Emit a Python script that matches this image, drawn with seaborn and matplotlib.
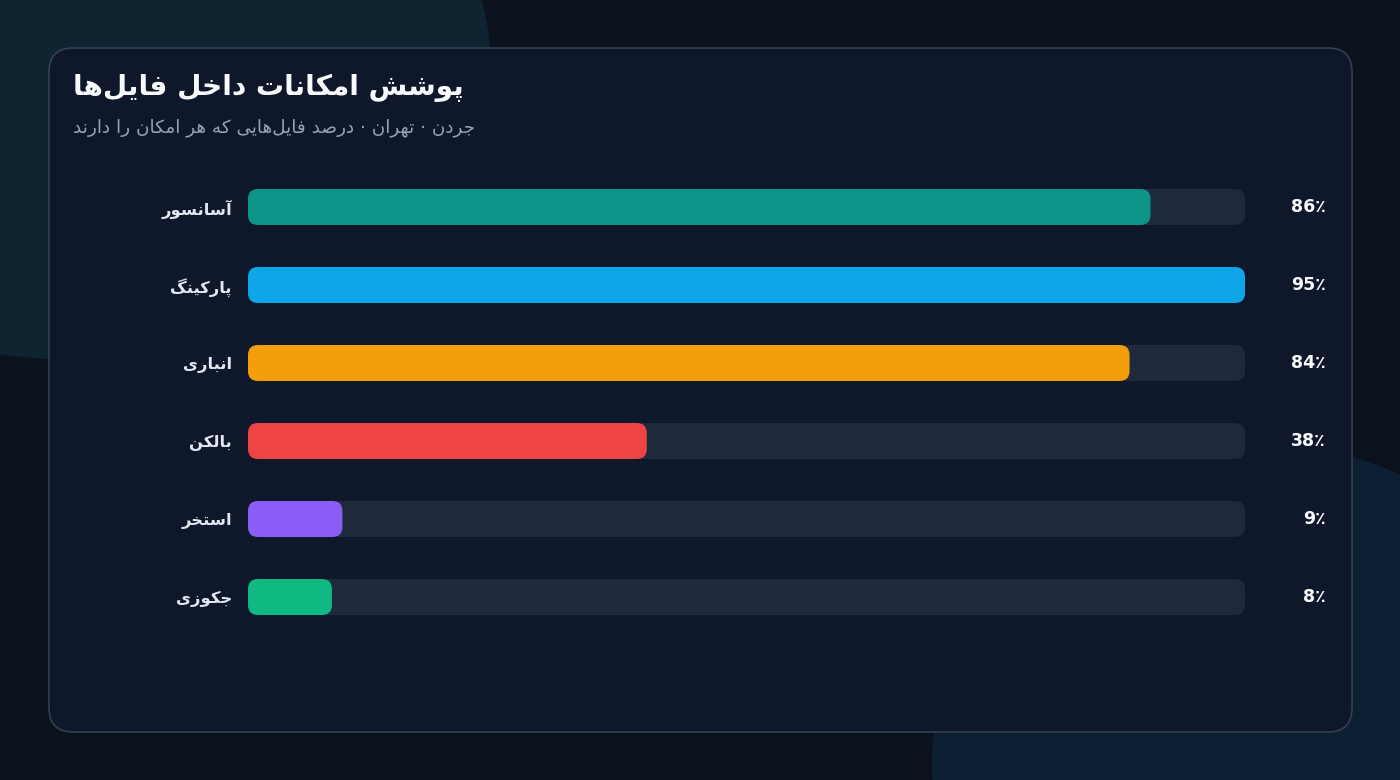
import numpy as np
import pandas as pd
import matplotlib
matplotlib.use("Agg")
import matplotlib.pyplot as plt
import seaborn as sns
from matplotlib.patches import FancyBboxPatch, Ellipse

# ---------------- data ----------------
title = "پوشش امکانات داخل فایل‌ها"
subtitle = "جردن · تهران · درصد فایل‌هایی که هر امکان را دارند"
categories = ["آسانسور", "پارکینگ", "انباری", "بالکن", "استخر", "جکوزی"]
values = [86, 95, 84, 38, 9, 8]
value_labels = ["86٪", "95٪", "84٪", "38٪", "9٪", "8٪"]
colors = ["#0d9488", "#0ea5e9", "#f59e0b", "#ef4444", "#8b5cf6", "#10b981"]

# ---------------- minimal Persian shaping (matplotlib has no bidi/shaping) ----------------
_FORMS = {
    'ا': (0xFE8D, 0xFE8E, None, None),
    'آ': (0xFE81, 0xFE82, None, None),
    'ب': (0xFE8F, 0xFE90, 0xFE91, 0xFE92),
    'پ': (0xFB56, 0xFB57, 0xFB58, 0xFB59),
    'ت': (0xFE95, 0xFE96, 0xFE97, 0xFE98),
    'ج': (0xFE9D, 0xFE9E, 0xFE9F, 0xFEA0),
    'خ': (0xFEA5, 0xFEA6, 0xFEA7, 0xFEA8),
    'د': (0xFEA9, 0xFEAA, None, None),
    'ر': (0xFEAD, 0xFEAE, None, None),
    'ز': (0xFEAF, 0xFEB0, None, None),
    'س': (0xFEB1, 0xFEB2, 0xFEB3, 0xFEB4),
    'ش': (0xFEB5, 0xFEB6, 0xFEB7, 0xFEB8),
    'ص': (0xFEB9, 0xFEBA, 0xFEBB, 0xFEBC),
    'ف': (0xFED1, 0xFED2, 0xFED3, 0xFED4),
    'ک': (0xFB8E, 0xFB8F, 0xFB90, 0xFB91),
    'گ': (0xFB92, 0xFB93, 0xFB94, 0xFB95),
    'ل': (0xFEDD, 0xFEDE, 0xFEDF, 0xFEE0),
    'م': (0xFEE1, 0xFEE2, 0xFEE3, 0xFEE4),
    'ن': (0xFEE5, 0xFEE6, 0xFEE7, 0xFEE8),
    'و': (0xFEED, 0xFEEE, None, None),
    'ه': (0xFEE9, 0xFEEA, 0xFEEB, 0xFEEC),
    'ی': (0xFBFC, 0xFBFD, 0xFBFE, 0xFBFF),
}


def shape(s):
    out = []
    n = len(s)
    i = 0

    def joins_next(c):
        f = _FORMS.get(c)
        return f is not None and f[2] is not None

    while i < n:
        c = s[i]
        f = _FORMS.get(c)
        if f is None:
            if c != '\u200c':
                out.append(c)
            i += 1
            continue
        prev = s[i - 1] if i > 0 else ''
        nxt = s[i + 1] if i + 1 < n else ''
        pj = joins_next(prev)
        if c == 'ل' and nxt in ('ا', 'آ'):
            lig = {'ا': (0xFEFB, 0xFEFC), 'آ': (0xFEF5, 0xFEF6)}[nxt]
            out.append(chr(lig[1] if pj else lig[0]))
            i += 2
            continue
        nj = f[2] is not None and nxt in _FORMS
        if pj and nj:
            ch = f[3]
        elif pj:
            ch = f[1]
        elif nj:
            ch = f[2]
        else:
            ch = f[0]
        out.append(chr(ch))
        i += 1
    return ''.join(reversed(out))


# ---------------- style ----------------
sns.set_style("dark")
plt.rcParams['font.family'] = ['DejaVu Sans']

BG = "#0b111d"
CARD = "#0f172a"
CARD_EDGE = "#334155"
TRACK = "#1e293b"

W, H = 1400, 780
fig = plt.figure(figsize=(W / 100, H / 100), dpi=100, facecolor=BG)

# background / card layer in pixel coordinates (y down)
bg = fig.add_axes([0, 0, 1, 1], zorder=0)
bg.set_xlim(0, W)
bg.set_ylim(H, 0)
bg.axis("off")
bg.set_facecolor(BG)
bg.add_patch(Ellipse((80, 60), 820, 600, color="#0e2430", lw=0))
bg.add_patch(Ellipse((1262, 765), 660, 640, color="#0c1f33", lw=0))
bg.add_patch(FancyBboxPatch((49, 48), 1303, 684,
                            boxstyle="round,pad=0,rounding_size=24",
                            fc=CARD, ec=CARD_EDGE, lw=1.2))
bg.text(73, 88, shape(title), ha="left", va="center", fontsize=20.2,
        fontweight="bold", color="#f8fafc")
bg.text(73, 128, shape(subtitle), ha="left", va="center", fontsize=13.2,
        color="#94a3b8")

# bar axes
x0_px, x1_px = 248, 1245
top_px, bot_px = 168, 636
ax = fig.add_axes([x0_px / W, 1 - bot_px / H, (x1_px - x0_px) / W, (bot_px - top_px) / H],
                  zorder=1)
ax.set_facecolor("none")

vmax = max(values)
df = pd.DataFrame({"cat": categories, "val": values, "track": [vmax] * len(values)})
bar_w = 36 / 78

sns.barplot(data=df, x="track", y="cat", orient="h", color=TRACK, width=bar_w,
            ax=ax, saturation=1)
n_track = len(ax.patches)
sns.barplot(data=df, x="val", y="cat", hue="cat", palette=colors, orient="h",
            width=bar_w, ax=ax, legend=False, saturation=1)

ax.set_xlim(0, vmax)
ax.set_ylim(len(categories) - 0.5, -0.5)

# turn bars into rounded bars
bbox = ax.get_window_extent()
ux = vmax / bbox.width
uy = len(categories) / bbox.height
r_px = 10
patches = list(ax.patches)
for k, p in enumerate(patches):
    x, y, w, h = p.get_x(), p.get_y(), p.get_width(), p.get_height()
    fc = p.get_facecolor()
    p.remove()
    ax.add_patch(FancyBboxPatch((x, y), w, h,
                                boxstyle=f"round,pad=0,rounding_size={r_px * ux}",
                                mutation_aspect=uy / ux, fc=fc, ec="none", lw=0,
                                zorder=2 if k < n_track else 3))

ax.set_yticks(range(len(categories)))
ax.set_yticklabels([shape(c) for c in categories])
ax.tick_params(axis="y", length=0, pad=11.5, labelsize=11.8, labelcolor="#e2e8f0")
for t in ax.get_yticklabels():
    t.set_fontweight("bold")
ax.set_xticks([])
ax.set_xlabel("")
ax.set_ylabel("")
for s in ax.spines.values():
    s.set_visible(False)
ax.grid(False)

for i, lab in enumerate(value_labels):
    ax.annotate(lab, xy=(1, i), xycoords=ax.get_yaxis_transform(),
                xytext=(81 * 0.72, 0), textcoords="offset points",
                ha="right", va="center", fontsize=12.5, fontweight="bold",
                color="#f8fafc", annotation_clip=False)

fig.savefig("out.png", dpi=100, facecolor=BG)
